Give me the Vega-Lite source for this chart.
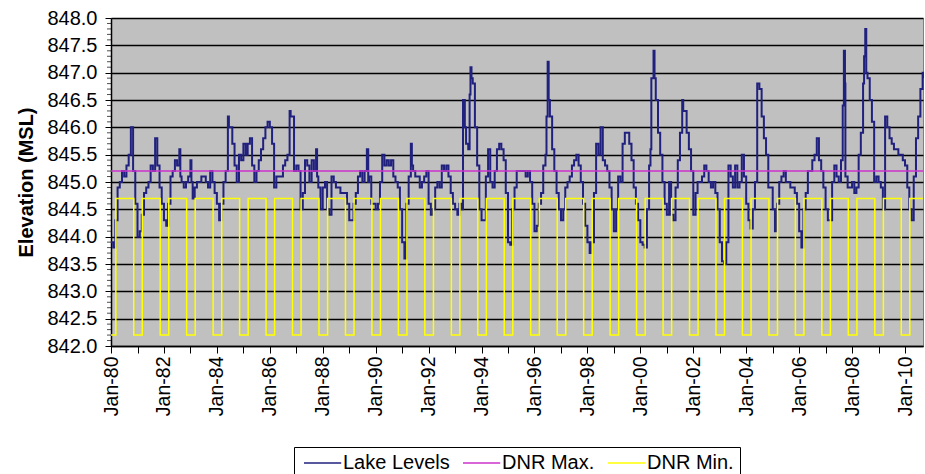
{
  "$schema": "https://vega.github.io/schema/vega-lite/v6.json",
  "width": 812,
  "height": 328,
  "autosize": {"type": "none"},
  "padding": {"left": 111, "top": 18, "right": 2, "bottom": 128},
  "background": "white",
  "config": {
    "font": "Liberation Sans",
    "view": {"fill": "#C0C0C0", "stroke": "#808080", "strokeWidth": 1}
  },
  "datasets": {
    "lake": [
      {"d":"1980-01-01","v":843.9},{"d":"1980-02-01","v":843.8},{"d":"1980-03-01","v":844.3},{"d":"1980-04-01","v":844.9},{"d":"1980-05-01","v":845.0},{"d":"1980-06-01","v":845.2},{"d":"1980-07-01","v":845.1},{"d":"1980-08-01","v":845.3},{"d":"1980-09-01","v":845.5},{"d":"1980-10-01","v":846.0},{"d":"1980-11-01","v":845.2},{"d":"1980-12-01","v":844.6},
      {"d":"1981-01-01","v":844.0},{"d":"1981-02-01","v":844.1},{"d":"1981-03-01","v":844.4},{"d":"1981-04-01","v":844.8},{"d":"1981-05-01","v":844.9},{"d":"1981-06-01","v":845.0},{"d":"1981-07-01","v":845.3},{"d":"1981-08-01","v":845.2},{"d":"1981-09-01","v":845.8},{"d":"1981-10-01","v":845.3},{"d":"1981-11-01","v":844.9},{"d":"1981-12-01","v":844.6},
      {"d":"1982-01-01","v":844.3},{"d":"1982-02-01","v":844.2},{"d":"1982-03-01","v":844.6},{"d":"1982-04-01","v":845.1},{"d":"1982-05-01","v":845.2},{"d":"1982-06-01","v":845.4},{"d":"1982-07-01","v":845.3},{"d":"1982-08-01","v":845.6},{"d":"1982-08-15","v":845.1},{"d":"1982-09-01","v":845.0},{"d":"1982-10-01","v":844.9},{"d":"1982-11-01","v":845.0},{"d":"1982-12-01","v":845.1},
      {"d":"1983-01-01","v":845.4},{"d":"1983-01-15","v":845.0},{"d":"1983-02-01","v":844.7},{"d":"1983-03-01","v":844.9},{"d":"1983-04-01","v":845.0},{"d":"1983-05-01","v":845.0},{"d":"1983-06-01","v":845.1},{"d":"1983-07-01","v":845.1},{"d":"1983-08-01","v":845.0},{"d":"1983-09-01","v":844.9},{"d":"1983-10-01","v":845.2},{"d":"1983-11-01","v":845.0},{"d":"1983-12-01","v":844.8},
      {"d":"1984-01-01","v":844.6},{"d":"1984-02-01","v":844.3},{"d":"1984-03-01","v":844.6},{"d":"1984-04-01","v":845.0},{"d":"1984-05-01","v":845.2},{"d":"1984-06-01","v":846.2},{"d":"1984-06-15","v":846.0},{"d":"1984-07-01","v":846.0},{"d":"1984-08-01","v":845.7},{"d":"1984-09-01","v":845.3},{"d":"1984-10-01","v":845.0},{"d":"1984-11-01","v":845.5},{"d":"1984-12-01","v":845.4},
      {"d":"1985-01-01","v":845.7},{"d":"1985-02-01","v":845.5},{"d":"1985-03-01","v":845.7},{"d":"1985-04-01","v":845.8},{"d":"1985-05-01","v":845.3},{"d":"1985-06-01","v":845.0},{"d":"1985-07-01","v":845.2},{"d":"1985-08-01","v":845.4},{"d":"1985-09-01","v":845.6},{"d":"1985-10-01","v":845.8},{"d":"1985-11-01","v":846.0},{"d":"1985-12-01","v":846.1},
      {"d":"1986-01-01","v":846.0},{"d":"1986-02-01","v":845.7},{"d":"1986-03-01","v":844.9},{"d":"1986-04-01","v":845.1},{"d":"1986-05-01","v":845.1},{"d":"1986-06-01","v":845.1},{"d":"1986-07-01","v":845.3},{"d":"1986-08-01","v":845.4},{"d":"1986-09-01","v":845.5},{"d":"1986-10-01","v":846.3},{"d":"1986-10-15","v":846.2},{"d":"1986-11-01","v":846.2},{"d":"1986-12-01","v":845.2},
      {"d":"1987-01-01","v":845.3},{"d":"1987-02-01","v":845.2},{"d":"1987-03-01","v":844.5},{"d":"1987-04-01","v":844.8},{"d":"1987-05-01","v":845.4},{"d":"1987-06-01","v":845.3},{"d":"1987-07-01","v":845.0},{"d":"1987-08-01","v":845.4},{"d":"1987-09-01","v":845.2},{"d":"1987-10-01","v":845.6},{"d":"1987-10-15","v":845.1},{"d":"1987-11-01","v":844.9},{"d":"1987-12-01","v":844.5},
      {"d":"1988-01-01","v":844.9},{"d":"1988-02-01","v":845.0},{"d":"1988-03-01","v":844.5},{"d":"1988-04-01","v":844.4},{"d":"1988-05-01","v":845.1},{"d":"1988-06-01","v":845.0},{"d":"1988-07-01","v":844.9},{"d":"1988-08-01","v":844.9},{"d":"1988-09-01","v":844.8},{"d":"1988-10-01","v":844.8},{"d":"1988-11-01","v":844.8},{"d":"1988-12-01","v":844.6},
      {"d":"1989-01-01","v":844.3},{"d":"1989-02-01","v":844.3},{"d":"1989-03-01","v":844.6},{"d":"1989-04-01","v":844.8},{"d":"1989-05-01","v":845.1},{"d":"1989-06-01","v":845.2},{"d":"1989-07-01","v":845.0},{"d":"1989-08-01","v":845.2},{"d":"1989-09-01","v":845.6},{"d":"1989-09-20","v":845.0},{"d":"1989-10-01","v":845.1},{"d":"1989-11-01","v":844.6},{"d":"1989-12-01","v":844.6},
      {"d":"1990-01-01","v":844.5},{"d":"1990-02-01","v":844.6},{"d":"1990-03-01","v":845.0},{"d":"1990-04-01","v":845.5},{"d":"1990-05-01","v":845.3},{"d":"1990-06-01","v":845.4},{"d":"1990-07-01","v":845.3},{"d":"1990-08-01","v":845.4},{"d":"1990-09-01","v":845.1},{"d":"1990-10-01","v":845.0},{"d":"1990-11-01","v":844.9},{"d":"1990-12-01","v":844.5},
      {"d":"1991-01-01","v":843.9},{"d":"1991-02-01","v":843.6},{"d":"1991-03-01","v":844.6},{"d":"1991-04-01","v":845.1},{"d":"1991-05-01","v":845.7},{"d":"1991-05-15","v":845.3},{"d":"1991-06-01","v":845.2},{"d":"1991-07-01","v":845.1},{"d":"1991-08-01","v":845.1},{"d":"1991-09-01","v":844.9},{"d":"1991-10-01","v":845.0},{"d":"1991-11-01","v":845.1},{"d":"1991-12-01","v":845.2},
      {"d":"1992-01-01","v":844.6},{"d":"1992-02-01","v":844.4},{"d":"1992-03-01","v":844.5},{"d":"1992-04-01","v":844.9},{"d":"1992-05-01","v":845.0},{"d":"1992-06-01","v":844.9},{"d":"1992-07-01","v":845.3},{"d":"1992-08-01","v":845.2},{"d":"1992-09-01","v":845.3},{"d":"1992-10-01","v":845.1},{"d":"1992-11-01","v":844.8},{"d":"1992-12-01","v":844.6},
      {"d":"1993-01-01","v":844.5},{"d":"1993-02-01","v":844.4},{"d":"1993-03-01","v":844.6},{"d":"1993-04-01","v":844.5},{"d":"1993-04-20","v":846.5},{"d":"1993-05-15","v":846.0},{"d":"1993-06-01","v":845.7},{"d":"1993-07-01","v":845.6},{"d":"1993-07-20","v":846.6},{"d":"1993-08-01","v":847.1},{"d":"1993-08-15","v":846.9},{"d":"1993-09-01","v":846.8},{"d":"1993-10-01","v":846.0},{"d":"1993-11-01","v":845.3},{"d":"1993-12-01","v":844.5},
      {"d":"1994-01-01","v":844.3},{"d":"1994-02-01","v":844.3},{"d":"1994-03-01","v":845.1},{"d":"1994-04-01","v":845.6},{"d":"1994-05-01","v":845.0},{"d":"1994-06-01","v":844.9},{"d":"1994-07-01","v":845.2},{"d":"1994-08-01","v":845.6},{"d":"1994-09-01","v":845.7},{"d":"1994-10-01","v":845.6},{"d":"1994-11-01","v":845.4},{"d":"1994-12-01","v":844.8},
      {"d":"1995-01-01","v":843.9},{"d":"1995-02-01","v":843.85},{"d":"1995-03-01","v":844.5},{"d":"1995-04-01","v":844.9},{"d":"1995-05-01","v":845.2},{"d":"1995-06-01","v":845.2},{"d":"1995-07-01","v":845.2},{"d":"1995-08-01","v":845.2},{"d":"1995-09-01","v":845.1},{"d":"1995-10-01","v":845.2},{"d":"1995-11-01","v":845.0},{"d":"1995-12-01","v":844.6},
      {"d":"1996-01-01","v":844.1},{"d":"1996-02-01","v":844.2},{"d":"1996-03-01","v":844.6},{"d":"1996-04-01","v":844.8},{"d":"1996-05-01","v":845.3},{"d":"1996-06-01","v":845.5},{"d":"1996-06-15","v":846.2},{"d":"1996-07-01","v":847.2},{"d":"1996-07-15","v":846.5},{"d":"1996-08-01","v":846.2},{"d":"1996-09-01","v":845.6},{"d":"1996-10-01","v":845.2},{"d":"1996-11-01","v":844.8},{"d":"1996-12-01","v":844.5},
      {"d":"1997-01-01","v":844.3},{"d":"1997-02-01","v":844.5},{"d":"1997-03-01","v":844.9},{"d":"1997-04-01","v":845.0},{"d":"1997-05-01","v":845.1},{"d":"1997-06-01","v":845.3},{"d":"1997-07-01","v":845.4},{"d":"1997-08-01","v":845.5},{"d":"1997-09-01","v":845.3},{"d":"1997-10-01","v":845.0},{"d":"1997-11-01","v":844.6},{"d":"1997-12-01","v":844.2},
      {"d":"1998-01-01","v":843.9},{"d":"1998-02-01","v":843.7},{"d":"1998-03-01","v":843.9},{"d":"1998-04-01","v":844.8},{"d":"1998-05-01","v":845.7},{"d":"1998-06-01","v":845.5},{"d":"1998-07-01","v":846.0},{"d":"1998-08-01","v":845.4},{"d":"1998-09-01","v":845.3},{"d":"1998-10-01","v":845.2},{"d":"1998-11-01","v":844.9},{"d":"1998-12-01","v":844.5},
      {"d":"1999-01-01","v":844.1},{"d":"1999-02-01","v":844.5},{"d":"1999-03-01","v":845.1},{"d":"1999-04-01","v":845.0},{"d":"1999-05-01","v":845.7},{"d":"1999-06-01","v":845.9},{"d":"1999-07-01","v":845.9},{"d":"1999-08-01","v":845.7},{"d":"1999-09-01","v":845.4},{"d":"1999-10-01","v":844.9},{"d":"1999-11-01","v":844.6},{"d":"1999-12-01","v":844.3},
      {"d":"2000-01-01","v":843.9},{"d":"2000-02-01","v":843.85},{"d":"2000-03-01","v":843.8},{"d":"2000-04-01","v":844.5},{"d":"2000-05-01","v":845.3},{"d":"2000-05-20","v":845.6},{"d":"2000-06-01","v":846.9},{"d":"2000-07-01","v":847.4},{"d":"2000-07-15","v":846.9},{"d":"2000-08-01","v":846.5},{"d":"2000-09-01","v":845.9},{"d":"2000-10-01","v":845.5},{"d":"2000-11-01","v":845.0},{"d":"2000-12-01","v":844.6},
      {"d":"2001-01-01","v":844.4},{"d":"2001-02-01","v":845.0},{"d":"2001-03-01","v":844.4},{"d":"2001-04-01","v":844.3},{"d":"2001-05-01","v":844.9},{"d":"2001-06-01","v":845.4},{"d":"2001-07-01","v":845.9},{"d":"2001-08-01","v":846.5},{"d":"2001-08-15","v":846.3},{"d":"2001-09-01","v":846.3},{"d":"2001-10-01","v":845.9},{"d":"2001-11-01","v":845.6},{"d":"2001-12-01","v":845.2},
      {"d":"2002-01-01","v":844.4},{"d":"2002-02-01","v":844.8},{"d":"2002-03-01","v":845.0},{"d":"2002-04-01","v":845.0},{"d":"2002-05-01","v":845.1},{"d":"2002-06-01","v":845.3},{"d":"2002-07-01","v":845.2},{"d":"2002-08-01","v":845.0},{"d":"2002-09-01","v":844.9},{"d":"2002-10-01","v":845.0},{"d":"2002-11-01","v":844.8},{"d":"2002-12-01","v":844.5},
      {"d":"2003-01-01","v":843.9},{"d":"2003-02-01","v":843.55},{"d":"2003-03-01","v":843.5},{"d":"2003-04-01","v":843.9},{"d":"2003-05-01","v":845.3},{"d":"2003-06-01","v":845.1},{"d":"2003-07-01","v":844.9},{"d":"2003-08-01","v":845.3},{"d":"2003-09-01","v":844.9},{"d":"2003-10-01","v":845.0},{"d":"2003-11-01","v":845.5},{"d":"2003-12-01","v":845.1},
      {"d":"2004-01-01","v":844.6},{"d":"2004-02-01","v":844.3},{"d":"2004-03-01","v":844.15},{"d":"2004-04-01","v":844.5},{"d":"2004-05-01","v":845.0},{"d":"2004-06-01","v":846.8},{"d":"2004-07-01","v":846.7},{"d":"2004-08-01","v":846.2},{"d":"2004-09-01","v":845.8},{"d":"2004-10-01","v":845.5},{"d":"2004-11-01","v":844.9},{"d":"2004-12-01","v":844.9},
      {"d":"2005-01-01","v":844.5},{"d":"2005-02-01","v":844.1},{"d":"2005-03-01","v":844.6},{"d":"2005-04-01","v":845.0},{"d":"2005-05-01","v":845.1},{"d":"2005-06-01","v":845.2},{"d":"2005-07-01","v":845.0},{"d":"2005-08-01","v":845.0},{"d":"2005-09-01","v":844.9},{"d":"2005-10-01","v":844.9},{"d":"2005-11-01","v":844.8},{"d":"2005-12-01","v":844.6},
      {"d":"2006-01-01","v":844.1},{"d":"2006-02-01","v":843.8},{"d":"2006-03-01","v":844.5},{"d":"2006-04-01","v":844.8},{"d":"2006-05-01","v":845.2},{"d":"2006-06-01","v":845.2},{"d":"2006-07-01","v":845.4},{"d":"2006-08-01","v":845.5},{"d":"2006-09-01","v":845.8},{"d":"2006-10-01","v":845.4},{"d":"2006-11-01","v":845.2},{"d":"2006-12-01","v":844.9},
      {"d":"2007-01-01","v":844.5},{"d":"2007-02-01","v":844.3},{"d":"2007-03-01","v":844.3},{"d":"2007-04-01","v":845.0},{"d":"2007-05-01","v":845.3},{"d":"2007-06-01","v":845.1},{"d":"2007-07-01","v":845.0},{"d":"2007-08-01","v":845.4},{"d":"2007-08-25","v":846.4},{"d":"2007-09-10","v":847.4},{"d":"2007-09-25","v":846.8},{"d":"2007-10-01","v":845.1},{"d":"2007-11-01","v":844.9},{"d":"2007-12-01","v":844.9},
      {"d":"2008-01-01","v":845.0},{"d":"2008-02-01","v":844.8},{"d":"2008-03-01","v":844.9},{"d":"2008-04-01","v":845.5},{"d":"2008-05-01","v":845.9},{"d":"2008-06-01","v":846.8},{"d":"2008-06-15","v":847.3},{"d":"2008-07-01","v":847.8},{"d":"2008-07-15","v":847.0},{"d":"2008-08-01","v":846.9},{"d":"2008-09-01","v":846.5},{"d":"2008-10-01","v":846.1},{"d":"2008-11-01","v":845.0},{"d":"2008-12-01","v":845.1},
      {"d":"2009-01-01","v":845.0},{"d":"2009-02-01","v":844.9},{"d":"2009-03-01","v":844.5},{"d":"2009-04-01","v":846.2},{"d":"2009-05-01","v":846.0},{"d":"2009-06-01","v":845.8},{"d":"2009-07-01","v":845.7},{"d":"2009-08-01","v":845.6},{"d":"2009-09-01","v":845.6},{"d":"2009-10-01","v":845.5},{"d":"2009-11-01","v":845.5},{"d":"2009-12-01","v":845.4},
      {"d":"2010-01-01","v":845.3},{"d":"2010-02-01","v":844.9},{"d":"2010-03-01","v":844.5},{"d":"2010-04-01","v":844.3},{"d":"2010-05-01","v":845.1},{"d":"2010-06-01","v":845.8},{"d":"2010-07-01","v":846.2},{"d":"2010-08-01","v":846.7},{"d":"2010-09-01","v":847.0},{"d":"2010-09-06","v":846.9}
    ],
    "dnrMax": [
      {"d":"1980-01-01","v":845.2},{"d":"2010-09-06","v":845.2}
    ],
    "dnrMin": [
      {"d":"1980-01-01","v":842.2},
      {"d":"1980-03-08","v":844.7},{"d":"1980-11-10","v":842.2},
      {"d":"1981-03-08","v":844.7},{"d":"1981-11-10","v":842.2},
      {"d":"1982-03-08","v":844.7},{"d":"1982-11-10","v":842.2},
      {"d":"1983-03-08","v":844.7},{"d":"1983-11-10","v":842.2},
      {"d":"1984-03-08","v":844.7},{"d":"1984-11-10","v":842.2},
      {"d":"1985-03-08","v":844.7},{"d":"1985-11-10","v":842.2},
      {"d":"1986-03-08","v":844.7},{"d":"1986-11-10","v":842.2},
      {"d":"1987-03-08","v":844.7},{"d":"1987-11-10","v":842.2},
      {"d":"1988-03-08","v":844.7},{"d":"1988-11-10","v":842.2},
      {"d":"1989-03-08","v":844.7},{"d":"1989-11-10","v":842.2},
      {"d":"1990-03-08","v":844.7},{"d":"1990-11-10","v":842.2},
      {"d":"1991-03-08","v":844.7},{"d":"1991-11-10","v":842.2},
      {"d":"1992-03-08","v":844.7},{"d":"1992-11-10","v":842.2},
      {"d":"1993-03-08","v":844.7},{"d":"1993-11-10","v":842.2},
      {"d":"1994-03-08","v":844.7},{"d":"1994-11-10","v":842.2},
      {"d":"1995-03-08","v":844.7},{"d":"1995-11-10","v":842.2},
      {"d":"1996-03-08","v":844.7},{"d":"1996-11-10","v":842.2},
      {"d":"1997-03-08","v":844.7},{"d":"1997-11-10","v":842.2},
      {"d":"1998-03-08","v":844.7},{"d":"1998-11-10","v":842.2},
      {"d":"1999-03-08","v":844.7},{"d":"1999-11-10","v":842.2},
      {"d":"2000-03-08","v":844.7},{"d":"2000-11-10","v":842.2},
      {"d":"2001-03-08","v":844.7},{"d":"2001-11-10","v":842.2},
      {"d":"2002-03-08","v":844.7},{"d":"2002-11-10","v":842.2},
      {"d":"2003-03-08","v":844.7},{"d":"2003-11-10","v":842.2},
      {"d":"2004-03-08","v":844.7},{"d":"2004-11-10","v":842.2},
      {"d":"2005-03-08","v":844.7},{"d":"2005-11-10","v":842.2},
      {"d":"2006-03-08","v":844.7},{"d":"2006-11-10","v":842.2},
      {"d":"2007-03-08","v":844.7},{"d":"2007-11-10","v":842.2},
      {"d":"2008-03-08","v":844.7},{"d":"2008-11-10","v":842.2},
      {"d":"2009-03-08","v":844.7},{"d":"2009-11-10","v":842.2},
      {"d":"2010-03-08","v":844.7},{"d":"2010-09-06","v":844.7}
    ],
    "minorTicks": [
      {"v":842.1},{"v":842.2},{"v":842.3},{"v":842.4},{"v":842.6},{"v":842.7},{"v":842.8},{"v":842.9},
      {"v":843.1},{"v":843.2},{"v":843.3},{"v":843.4},{"v":843.6},{"v":843.7},{"v":843.8},{"v":843.9},
      {"v":844.1},{"v":844.2},{"v":844.3},{"v":844.4},{"v":844.6},{"v":844.7},{"v":844.8},{"v":844.9},
      {"v":845.1},{"v":845.2},{"v":845.3},{"v":845.4},{"v":845.6},{"v":845.7},{"v":845.8},{"v":845.9},
      {"v":846.1},{"v":846.2},{"v":846.3},{"v":846.4},{"v":846.6},{"v":846.7},{"v":846.8},{"v":846.9},
      {"v":847.1},{"v":847.2},{"v":847.3},{"v":847.4},{"v":847.6},{"v":847.7},{"v":847.8},{"v":847.9}
    ]
  },
  "layer": [
    {
      "data": {"name": "lake"},
      "mark": {"type": "line", "interpolate": "step-after", "strokeWidth": 2},
      "encoding": {
        "x": {
          "field": "d",
          "type": "temporal",
          "scale": {
            "type": "utc",
            "domain": [{"year": 1980, "month": 1, "date": 1, "utc": true}, {"year": 2010, "month": 9, "date": 6, "utc": true}]
          },
          "axis": {
            "title": null,
            "grid": false,
            "tickCount": 100,
            "values": [
              {"year":1980,"utc":true},{"year":1981,"utc":true},{"year":1982,"utc":true},{"year":1983,"utc":true},{"year":1984,"utc":true},{"year":1985,"utc":true},{"year":1986,"utc":true},{"year":1987,"utc":true},{"year":1988,"utc":true},{"year":1989,"utc":true},{"year":1990,"utc":true},{"year":1991,"utc":true},{"year":1992,"utc":true},{"year":1993,"utc":true},{"year":1994,"utc":true},{"year":1995,"utc":true},{"year":1996,"utc":true},{"year":1997,"utc":true},{"year":1998,"utc":true},{"year":1999,"utc":true},{"year":2000,"utc":true},{"year":2001,"utc":true},{"year":2002,"utc":true},{"year":2003,"utc":true},{"year":2004,"utc":true},{"year":2005,"utc":true},{"year":2006,"utc":true},{"year":2007,"utc":true},{"year":2008,"utc":true},{"year":2009,"utc":true},{"year":2010,"utc":true}
            ],
            "labelExpr": "utcyear(datum.value) % 2 == 0 ? utcFormat(datum.value, '%b-%y') : ''",
            "labelAngle": -90,
            "labelAlign": "right",
            "labelBaseline": "middle",
            "labelFontSize": 19.5,
            "labelColor": "#000000",
            "labelPadding": 3,
            "labelOverlap": false,
            "labelFlush": false,
            "tickSize": 7,
            "tickColor": "#000000",
            "tickWidth": 1,
            "domainColor": "#000000",
            "domainWidth": 1.5
          }
        },
        "y": {
          "field": "v",
          "type": "quantitative",
          "scale": {"domain": [842, 848], "zero": false, "nice": false},
          "axis": {
            "title": "Elevation (MSL)",
            "titleFontSize": 20,
            "titleFontWeight": "bold",
            "titleColor": "#000000",
            "titlePadding": 10,
            "tickCount": 100,
            "values": [842, 842.5, 843, 843.5, 844, 844.5, 845, 845.5, 846, 846.5, 847, 847.5, 848],
            "format": ".1f",
            "labelFontSize": 20,
            "labelColor": "#000000",
            "labelPadding": 8,
            "labelOverlap": false,
            "labelFlush": false,
            "grid": true,
            "gridColor": "#000000",
            "gridWidth": 1.5,
            "tickSize": 6,
            "tickColor": "#000000",
            "tickWidth": 1,
            "domainColor": "#000000",
            "domainWidth": 1.5
          }
        },
        "color": {
          "datum": "Lake Levels",
          "type": "nominal",
          "scale": {
            "domain": ["Lake Levels", "DNR Max.", "DNR Min."],
            "range": ["#20207E", "#CC33CC", "#FFFF00"]
          },
          "legend": {
            "title": null,
            "orient": "none",
            "legendX": 183,
            "legendY": 429,
            "direction": "horizontal",
            "symbolType": "M-1,0L5.2,0",
            "symbolSize": 144,
            "symbolStrokeWidth": 1.5,
            "labelFont": "Liberation Sans",
            "labelFontSize": 20,
            "labelColor": "#000000",
            "labelOffset": 23,
            "columnPadding": 9,
            "strokeColor": "#000000",
            "fillColor": "#FFFFFF",
            "padding": 6
          }
        }
      }
    },
    {
      "data": {"name": "dnrMax"},
      "mark": {"type": "line", "strokeWidth": 1.5},
      "encoding": {
        "x": {"field": "d", "type": "temporal"},
        "y": {"field": "v", "type": "quantitative"},
        "color": {"datum": "DNR Max.", "type": "nominal"}
      }
    },
    {
      "data": {"name": "dnrMin"},
      "mark": {"type": "line", "interpolate": "step-after", "strokeWidth": 1.5},
      "encoding": {
        "x": {"field": "d", "type": "temporal"},
        "y": {"field": "v", "type": "quantitative"},
        "color": {"datum": "DNR Min.", "type": "nominal"}
      }
    },
    {
      "data": {"name": "minorTicks"},
      "mark": {"type": "tick", "orient": "horizontal", "size": 4, "thickness": 1, "color": "#000000", "xOffset": -2},
      "encoding": {
        "x": {"datum": {"year": 1980, "month": 1, "date": 1, "utc": true}, "type": "temporal"},
        "y": {"field": "v", "type": "quantitative"}
      }
    }
  ]
}
